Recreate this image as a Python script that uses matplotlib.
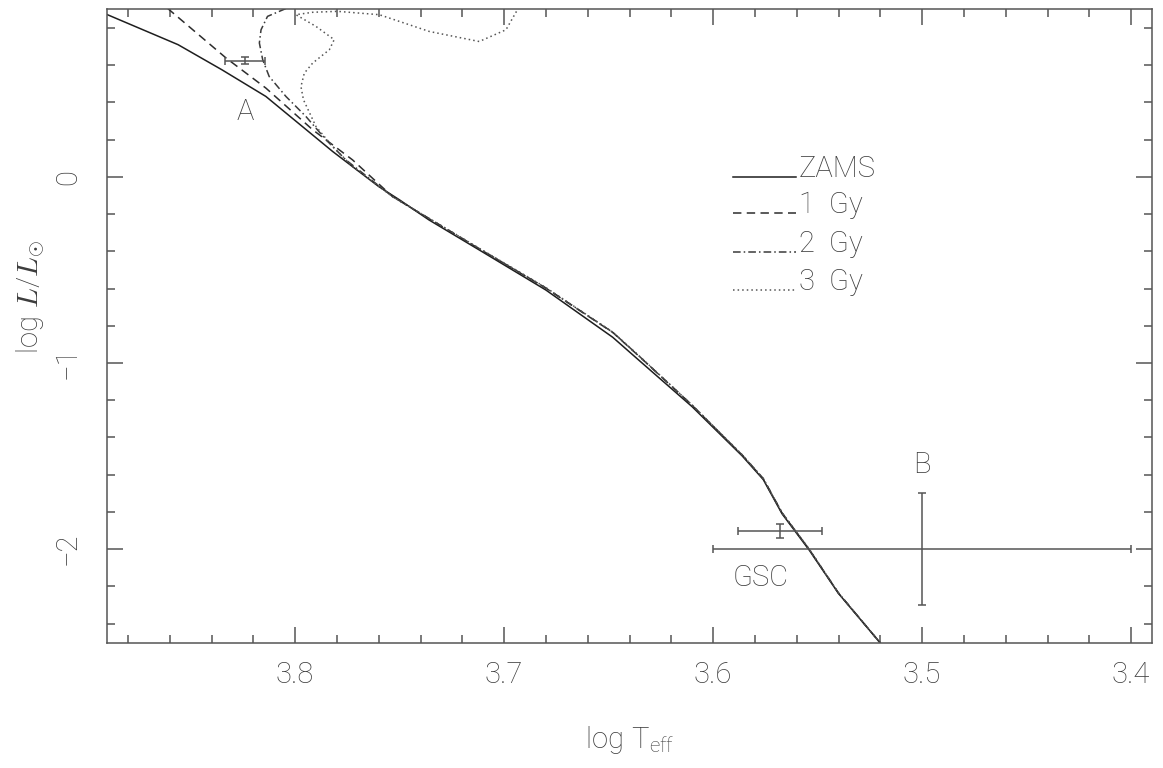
import matplotlib
matplotlib.use("Agg")
import matplotlib.pyplot as plt
from matplotlib.ticker import MultipleLocator

plt.rcParams['font.family'] = ['Roboto', 'DejaVu Sans']
plt.rcParams['font.weight'] = 'normal'
plt.rcParams['mathtext.fontset'] = 'custom'
plt.rcParams['mathtext.rm'] = 'Roboto:light'
plt.rcParams['mathtext.sf'] = 'Roboto:light'
plt.rcParams['mathtext.it'] = 'cmmi10'

# ---- data ----
zams_x = [3.890, 3.856, 3.835, 3.814, 3.782, 3.760, 3.750, 3.736, 3.712, 3.680,
          3.648, 3.635, 3.610, 3.586, 3.576, 3.567, 3.554, 3.540, 3.520]
zams_y = [0.872, 0.710, 0.575, 0.432, 0.136, -0.052, -0.124, -0.231, -0.392, -0.608,
          -0.862, -0.990, -1.235, -1.500, -1.626, -1.810, -2.005, -2.238, -2.504]

gy1_x = [3.861, 3.833, 3.814, 3.7916, 3.7725, 3.7534, 3.736, 3.712, 3.680,
         3.648, 3.635, 3.610, 3.586, 3.576, 3.567, 3.554, 3.540, 3.520]
gy1_y = [0.905, 0.638, 0.477, 0.253, 0.091, -0.106, -0.224, -0.386, -0.598,
         -0.836, -0.968, -1.228, -1.496, -1.622, -1.806, -2.002, -2.236, -2.504]

gy2_x = [3.8044, 3.8132, 3.8163, 3.8171, 3.8155, 3.8124, 3.8044, 3.7948, 3.7852,
         3.7757, 3.7534, 3.736, 3.712, 3.680, 3.648, 3.635, 3.610, 3.586, 3.576,
         3.567, 3.554, 3.540, 3.520]
gy2_y = [0.904, 0.862, 0.790, 0.719, 0.629, 0.539, 0.432, 0.324, 0.199,
         0.091, -0.106, -0.223, -0.385, -0.597, -0.835, -0.967, -1.227, -1.495, -1.621,
         -1.805, -2.001, -2.236, -2.504]

gy3_x = [3.6930, 3.6991, 3.7119, 3.7358, 3.7597, 3.7797, 3.7916, 3.7996, 3.7900,
         3.7813, 3.7836, 3.7916, 3.7956, 3.7972, 3.7960, 3.7900, 3.7820, 3.7725,
         3.7534, 3.736, 3.712, 3.680, 3.648, 3.635, 3.610, 3.586, 3.576, 3.567,
         3.554, 3.540, 3.520]
gy3_y = [0.910, 0.790, 0.727, 0.781, 0.871, 0.889, 0.884, 0.871, 0.808,
         0.737, 0.683, 0.611, 0.557, 0.485, 0.414, 0.270, 0.163, 0.055,
         -0.106, -0.222, -0.383, -0.595, -0.834, -0.966, -1.226, -1.494, -1.620, -1.804,
         -2.000, -2.235, -2.504]

# observed points: (logTeff, logL, xerr, yerr)
ptA = (3.824, 0.624, 0.0095, 0.02)
ptG = (3.568, -1.903, 0.020, 0.038)
ptB = (3.500, -2.000, 0.100, 0.300)

legend_labels = ['ZAMS', '1  Gy', '2  Gy', '3  Gy']

# ---- figure ----
fig = plt.figure(figsize=(11.63, 7.68), dpi=100)
ax = fig.add_axes([107/1163, 1-643/768, (1152-107)/1163, (643-9.3)/768])

tcol = '#3c3c3c'
acol = '#555555'
lcol = '#1e1e1e'
lw = 1.1
fw = 'light'

styles = ['-', (0, (5.5, 3.5)), (0, (5, 2, 1, 2)), (0, (1, 2))]
series = [(zams_x, zams_y), (gy1_x, gy1_y), (gy2_x, gy2_y), (gy3_x, gy3_y)]
cols = [lcol, '#2c2c2c', '#3a3a3a', '#555555']
for (sx, sy), ls, c in zip(series, styles, cols):
    ax.plot(sx, sy, color=c, lw=lw, linestyle=ls)

for p in (ptA, ptG, ptB):
    ax.errorbar(p[0], p[1], xerr=p[2], yerr=p[3], fmt='none', ecolor=acol,
                elinewidth=1.1, capsize=3, capthick=1.1)

fs = 21
ax.text(3.8238, 0.351, 'A', fontsize=fs, color=tcol, ha='center', va='center', fontweight=fw)
ax.text(3.5, -1.548, 'B', fontsize=fs, color=tcol, ha='center', va='center', fontweight=fw)
ax.text(3.5772, -2.154, 'GSC', fontsize=fs, color=tcol, ha='center', va='center', fontweight=fw)

# legend drawn in data coordinates
leg_y = [0.0, -0.195, -0.405, -0.61]
for lab, ly, ls, c in zip(legend_labels, leg_y, styles, cols):
    ax.plot([3.5905, 3.5605], [ly, ly], color=c, lw=lw, linestyle=ls)
    ax.text(3.5590, ly, lab, fontsize=fs, color=tcol, ha='left', va='baseline', fontweight=fw)

ax.set_xlim(3.89, 3.39)
ax.set_ylim(-2.504, 0.90)

ax.xaxis.set_major_locator(MultipleLocator(0.1))
ax.xaxis.set_minor_locator(MultipleLocator(0.02))
ax.yaxis.set_major_locator(MultipleLocator(1))
ax.yaxis.set_minor_locator(MultipleLocator(0.2))
ax.tick_params(which='both', direction='in', top=True, right=True, color=acol,
               width=1.1, labelcolor=tcol, labelsize=fs)
ax.tick_params(which='major', length=11.5)
ax.tick_params(which='minor', length=5.8)
ax.tick_params(axis='x', pad=13)
ax.tick_params(axis='y', pad=18)
for lab in ax.get_xticklabels():
    lab.set_fontweight(fw)
for lab in ax.get_yticklabels():
    lab.set_rotation(90)
    lab.set_va('center')
    lab.set_fontweight(fw)
for s in ax.spines.values():
    s.set_color(acol)
    s.set_linewidth(1.1)

ax.set_xlabel(r'$\mathrm{log\ T_{eff}}$', fontsize=fs, color=tcol)
ax.xaxis.set_label_coords(0.5, -0.128)
ax.xaxis.label.set_va('top')
ax.set_ylabel(r'$\mathrm{log}\ L/L_{\odot}$', fontsize=fs, color=tcol)
ax.yaxis.set_label_coords(-0.056, 0.546)

fig.savefig('out.png', dpi=100)
